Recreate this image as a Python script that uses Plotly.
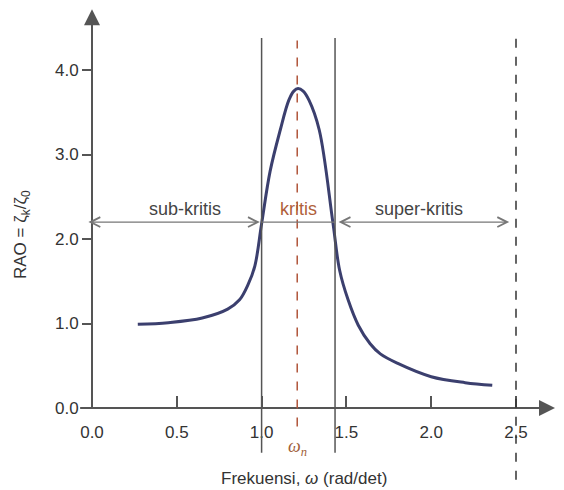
import plotly.graph_objects as go

# Data
freq = [0.27, 0.45, 0.65, 0.80, 0.87, 0.92, 0.96, 1.00, 1.05, 1.11, 1.16, 1.19, 1.215,
        1.245, 1.28, 1.34, 1.42, 1.46, 1.51, 1.57, 1.64, 1.70, 1.80, 2.00, 2.20, 2.36]
rao = [0.99, 1.01, 1.065, 1.17, 1.28, 1.46, 1.68, 2.18, 2.80, 3.29, 3.64, 3.75, 3.78,
       3.75, 3.64, 3.29, 2.20, 1.63, 1.28, 0.98, 0.76, 0.64, 0.53, 0.37, 0.30, 0.27]

x_ticks = [0.0, 0.5, 1.0, 1.5, 2.0, 2.5]
x_tick_labels = ["0.0", "0.5", "1.0", "1.5", "2.0", "2.5"]
y_ticks = [0.0, 1.0, 2.0, 3.0, 4.0]
y_tick_labels = ["0.0", "1.0", "2.0", "3.0", "4.0"]

omega_low = 1.0
omega_n = 1.21
omega_high = 1.433
omega_end = 2.5
arrow_level = 2.2

zone_labels = ["sub-kritis", "kritis", "super-kritis"]
zone_x = [0.55, 1.215, 1.93]

W, H = 564, 490
X0PX, Y0PX = 92, 408     # pixel of data origin
SX, SY = 169.6, 84.5     # pixels per unit
XR = [-X0PX / SX, (W - X0PX) / SX]
YR = [(Y0PX - H) / SY, Y0PX / SY]


def px_x(p):
    return (p - X0PX) / SX


def px_y(p):
    return (Y0PX - p) / SY


fig = go.Figure()
fig.add_trace(go.Scatter(x=freq, y=rao, mode="lines",
                         line=dict(color="#3b3f6e", width=3, shape="spline", smoothing=1.0),
                         hoverinfo="skip", showlegend=False))

gray = "#555555"
shapes = []
shapes.append(dict(type="line", xref="x", yref="y", x0=-0.07, x1=2.70, y0=0, y1=0,
                   line=dict(color=gray, width=2)))
shapes.append(dict(type="line", xref="x", yref="y", x0=0, x1=0, y0=0, y1=4.6,
                   line=dict(color=gray, width=2)))
shapes.append(dict(type="line", x0=omega_low, x1=omega_low, y0=-0.53, y1=4.38,
                   line=dict(color=gray, width=1.5)))
shapes.append(dict(type="line", x0=omega_high, x1=omega_high, y0=-0.53, y1=4.38,
                   line=dict(color=gray, width=1.5)))
shapes.append(dict(type="line", x0=omega_n, x1=omega_n, y0=-0.22, y1=4.35,
                   line=dict(color="#b0553a", width=1.5, dash="dash")))
shapes.append(dict(type="line", x0=omega_end, x1=omega_end, y0=-0.85, y1=4.41,
                   line=dict(color="#333333", width=1.5, dash="dash")))
shapes.append(dict(type="line", x0=omega_low, x1=omega_high, y0=arrow_level, y1=arrow_level,
                   line=dict(color="#777777", width=1.2)))

annotations = []
annotations.append(dict(x=0, y=4.72, ax=0, ay=4.4, xref="x", yref="y", axref="x", ayref="y",
                        showarrow=True, arrowhead=2, arrowsize=1.6, arrowwidth=2,
                        arrowcolor=gray, text=""))
annotations.append(dict(x=2.73, y=0, ax=2.5, ay=0, xref="x", yref="y", axref="x", ayref="y",
                        showarrow=True, arrowhead=2, arrowsize=1.6, arrowwidth=2,
                        arrowcolor=gray, text=""))
annotations.append(dict(x=0.99, y=arrow_level, ax=-0.03, ay=arrow_level, xref="x", yref="y",
                        axref="x", ayref="y", showarrow=True, arrowhead=5, startarrowhead=5,
                        arrowside="end+start", arrowsize=1.6, startarrowsize=1.6,
                        arrowwidth=1.2, arrowcolor="#777777", text=""))
annotations.append(dict(x=2.46, y=arrow_level, ax=1.445, ay=arrow_level, xref="x", yref="y",
                        axref="x", ayref="y", showarrow=True, arrowhead=5, startarrowhead=5,
                        arrowside="end+start", arrowsize=1.6, startarrowsize=1.6,
                        arrowwidth=1.2, arrowcolor="#777777", text=""))
zone_colors = ["#444444", "#b0603a", "#444444"]
for lbl, zx, zc in zip(zone_labels, zone_x, zone_colors):
    annotations.append(dict(x=zx, y=arrow_level, xref="x", yref="y", text=lbl, showarrow=False,
                            yanchor="bottom", yshift=1,
                            font=dict(family="Liberation Sans, Arial", size=18, color=zc)))
annotations.append(dict(x=omega_n, y=px_y(447), xref="x", yref="y",
                        text="<i>ω<sub>n</sub></i>", showarrow=False,
                        font=dict(family="Liberation Serif, serif", size=18, color="#a0603a")))
annotations.append(dict(x=px_x(304), y=px_y(478), xref="x", yref="y",
                        text="Frekuensi, <i>ω</i> (rad/det)", showarrow=False,
                        font=dict(family="Liberation Sans, Arial", size=17, color="#333333")))
annotations.append(dict(x=px_x(22), y=px_y(235), xref="x", yref="y",
                        text="RAO = ζ<sub>k</sub>/ζ<sub>0</sub>", showarrow=False, textangle=-90,
                        font=dict(family="Liberation Sans, Arial", size=17, color="#333333")))

fig.update_layout(
    width=W, height=H,
    margin=dict(l=0, r=0, t=0, b=0),
    paper_bgcolor="white", plot_bgcolor="white",
    shapes=shapes, annotations=annotations,
    xaxis=dict(range=XR, showgrid=False, zeroline=False, showline=False,
               anchor="free", position=(0 - YR[0]) / (YR[1] - YR[0]),
               tickmode="array", tickvals=x_ticks, ticktext=x_tick_labels,
               ticks="inside", ticklen=12, tickwidth=1.5, tickcolor=gray,
               ticklabelstandoff=12,
               tickfont=dict(family="Liberation Sans, Arial", size=17, color="#333333"),
               automargin=False, fixedrange=True),
    yaxis=dict(range=YR, showgrid=False, zeroline=False, showline=False,
               anchor="free", position=(0 - XR[0]) / (XR[1] - XR[0]),
               tickmode="array", tickvals=y_ticks, ticktext=y_tick_labels,
               ticks="outside", ticklen=10, tickwidth=1.5, tickcolor=gray,
               tickfont=dict(family="Liberation Sans, Arial", size=17, color="#333333"),
               automargin=False, fixedrange=True),
)

fig.write_html("out.html", config={"displayModeBar": False},
               post_script="document.body.style.margin='0';document.body.style.overflow='hidden';")
